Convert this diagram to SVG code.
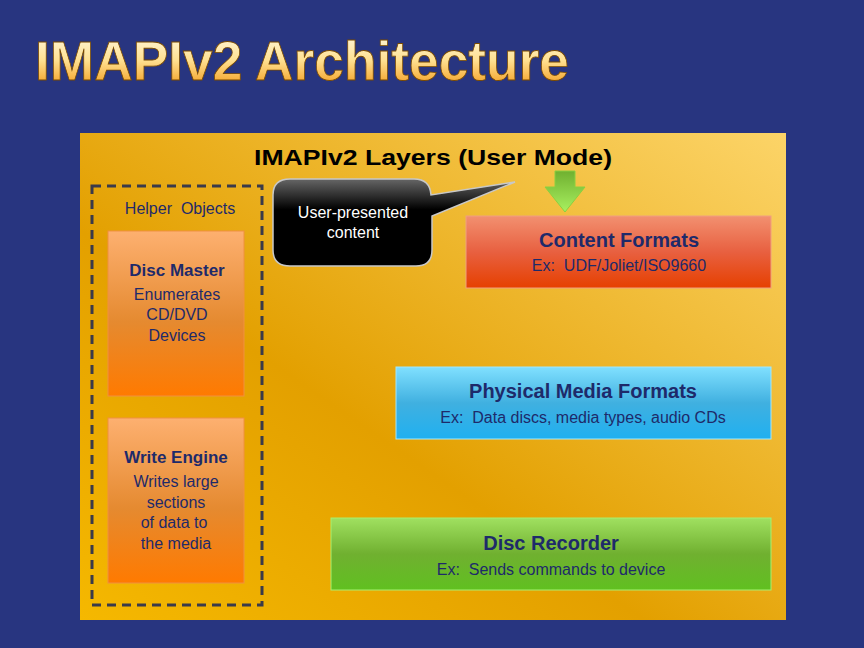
<svg xmlns="http://www.w3.org/2000/svg" width="864" height="648" viewBox="0 0 864 648" xml:space="preserve">
<defs>
<linearGradient id="tg" x1="0" y1="0" x2="0" y2="1"><stop offset="0" stop-color="#fffbe8"/><stop offset="0.5" stop-color="#ffe090"/><stop offset="1" stop-color="#f0900a"/></linearGradient>
<linearGradient id="pg" x1="0" y1="1" x2="1" y2="0"><stop offset="0" stop-color="#f5b800"/><stop offset="0.4" stop-color="#e3a000"/><stop offset="1" stop-color="#fcd468"/></linearGradient>
<linearGradient id="og" x1="0" y1="0" x2="0" y2="1"><stop offset="0" stop-color="#fdb070"/><stop offset="0.55" stop-color="#e58a30"/><stop offset="1" stop-color="#ff7a00"/></linearGradient>
<linearGradient id="rg" x1="0" y1="0" x2="0" y2="1"><stop offset="0" stop-color="#f29070"/><stop offset="0.5" stop-color="#e86040"/><stop offset="1" stop-color="#e64000"/></linearGradient>
<linearGradient id="bg" x1="0" y1="0" x2="0" y2="1"><stop offset="0" stop-color="#80e0ff"/><stop offset="0.5" stop-color="#40b0e0"/><stop offset="1" stop-color="#20b0f0"/></linearGradient>
<linearGradient id="gg" x1="0" y1="0" x2="0" y2="1"><stop offset="0" stop-color="#a0e060"/><stop offset="0.5" stop-color="#70b030"/><stop offset="1" stop-color="#60c020"/></linearGradient>
<linearGradient id="kg" x1="0" y1="0" x2="0" y2="1"><stop offset="0" stop-color="#666"/><stop offset="0.35" stop-color="#000"/><stop offset="1" stop-color="#000"/></linearGradient>
<linearGradient id="ag" x1="0" y1="0" x2="0" y2="1"><stop offset="0" stop-color="#70b030"/><stop offset="1" stop-color="#a8f060"/></linearGradient>
</defs>
<style>
text{font-family:"Liberation Sans",Arial,sans-serif;text-anchor:middle;white-space:pre}
.h{font-weight:bold;fill:#1e2a6a;font-size:20px}
.hs{font-weight:bold;fill:#1e2a6a;font-size:17px}
.s{fill:#1e2a6a;font-size:16px}
</style>
<rect width="864" height="648" fill="#283580"/>
<text x="302" y="80" font-size="56" font-weight="bold" fill="url(#tg)" stroke="#7a4a00" stroke-width="0.8" textLength="534" lengthAdjust="spacingAndGlyphs">IMAPIv2 Architecture</text>
<rect x="80" y="133" width="706" height="487" fill="url(#pg)"/>
<text x="433" y="165" font-size="22" font-weight="bold" fill="#000" textLength="358" lengthAdjust="spacingAndGlyphs">IMAPIv2 Layers (User Mode)</text>
<g id="helpers">
<rect x="92" y="186" width="170" height="419" fill="none" stroke="#3a3a4a" stroke-width="3" stroke-dasharray="9,6"/>
<text x="180" y="214" class="s" fill="#222">Helper  Objects</text>
</g>
<g id="discmaster">
<rect x="108" y="231" width="136" height="165" fill="url(#og)" stroke="#f09040"/>
<text x="177" y="276" class="hs">Disc Master</text>
<text x="177" y="300" class="s">Enumerates</text>
<text x="177" y="320" class="s">CD/DVD</text>
<text x="177" y="341" class="s">Devices</text>
</g>
<g id="writeengine">
<rect x="108" y="418" width="136" height="165" fill="url(#og)" stroke="#f09040"/>
<text x="176" y="463" class="hs">Write Engine</text>
<text x="176" y="487" class="s">Writes large</text>
<text x="176" y="508" class="s">sections</text>
<text x="174" y="528" class="s">of data to</text>
<text x="176" y="549" class="s">the media</text>
</g>
<g id="callout">
<path d="M290,179 H414 Q430,179 431,195 L515,182 L432,216 V250 Q432,266 416,266 H290 Q273,266 273,250 V195 Q273,179 290,179 Z" fill="url(#kg)" stroke="#c8c8c8" stroke-width="1.5"/>
<text x="353" y="218" font-size="16" fill="#fff">User-presented</text>
<text x="353" y="238" font-size="16" fill="#fff">content</text>
</g>
<g id="arrow"><path d="M555,171 H575 V187 H585 L565,212 L545,187 H555 Z" fill="url(#ag)" stroke="#8ad040"/></g>
<g id="content">
<rect x="466" y="216" width="305" height="72" fill="url(#rg)" stroke="#f0a080"/>
<text x="619" y="247" class="h">Content Formats</text>
<text x="619" y="271" class="s">Ex:  UDF/Joliet/ISO9660</text>
</g>
<g id="physical">
<rect x="396" y="367" width="375" height="72" fill="url(#bg)" stroke="#a0e8ff"/>
<text x="583" y="398" class="h">Physical Media Formats</text>
<text x="583" y="423" class="s">Ex:  Data discs, media types, audio CDs</text>
</g>
<g id="recorder">
<rect x="331" y="518" width="440" height="72" fill="url(#gg)" stroke="#a8f070"/>
<text x="551" y="550" class="h">Disc Recorder</text>
<text x="551" y="575" class="s">Ex:  Sends commands to device</text>
</g>
<g id="connectors"/>
</svg>
